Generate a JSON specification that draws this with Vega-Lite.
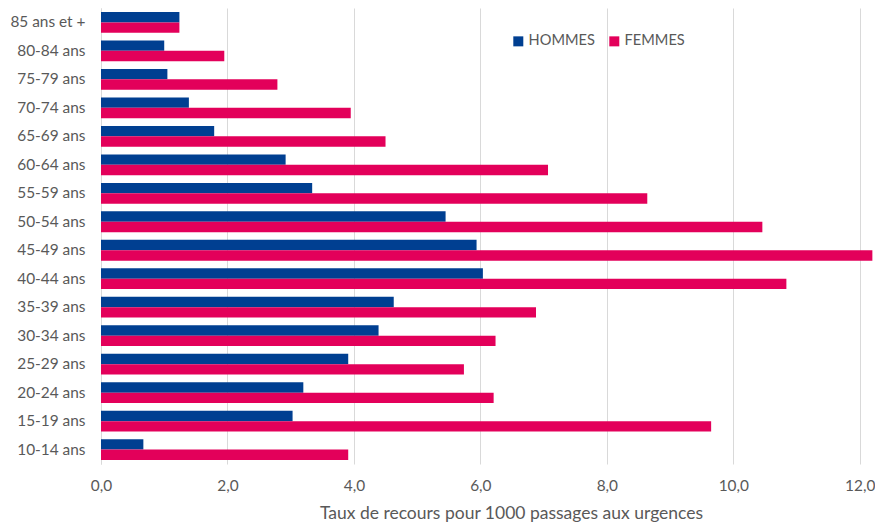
{
  "$schema": "https://vega.github.io/schema/vega-lite/v6.json",
  "autosize": {"type": "none"},
  "padding": {"left": 101, "top": 8, "right": 2, "bottom": 61},
  "width": 772,
  "height": 456,
  "config": {
    "view": {"stroke": null},
    "font": "Lato",
    "axis": {"labelColor": "#595959", "titleColor": "#595959", "labelFont": "Lato", "titleFont": "Lato"}
  },
  "data": {
    "values": [
      {"age": "85 ans et +", "sexe": "HOMMES", "taux": 1.24},
      {"age": "85 ans et +", "sexe": "FEMMES", "taux": 1.24},
      {"age": "80-84 ans", "sexe": "HOMMES", "taux": 1.0},
      {"age": "80-84 ans", "sexe": "FEMMES", "taux": 1.95},
      {"age": "75-79 ans", "sexe": "HOMMES", "taux": 1.05},
      {"age": "75-79 ans", "sexe": "FEMMES", "taux": 2.79},
      {"age": "70-74 ans", "sexe": "HOMMES", "taux": 1.39},
      {"age": "70-74 ans", "sexe": "FEMMES", "taux": 3.95},
      {"age": "65-69 ans", "sexe": "HOMMES", "taux": 1.79},
      {"age": "65-69 ans", "sexe": "FEMMES", "taux": 4.5},
      {"age": "60-64 ans", "sexe": "HOMMES", "taux": 2.92},
      {"age": "60-64 ans", "sexe": "FEMMES", "taux": 7.07},
      {"age": "55-59 ans", "sexe": "HOMMES", "taux": 3.34},
      {"age": "55-59 ans", "sexe": "FEMMES", "taux": 8.64},
      {"age": "50-54 ans", "sexe": "HOMMES", "taux": 5.45},
      {"age": "50-54 ans", "sexe": "FEMMES", "taux": 10.46},
      {"age": "45-49 ans", "sexe": "HOMMES", "taux": 5.94},
      {"age": "45-49 ans", "sexe": "FEMMES", "taux": 12.2},
      {"age": "40-44 ans", "sexe": "HOMMES", "taux": 6.04},
      {"age": "40-44 ans", "sexe": "FEMMES", "taux": 10.84},
      {"age": "35-39 ans", "sexe": "HOMMES", "taux": 4.63},
      {"age": "35-39 ans", "sexe": "FEMMES", "taux": 6.88},
      {"age": "30-34 ans", "sexe": "HOMMES", "taux": 4.39},
      {"age": "30-34 ans", "sexe": "FEMMES", "taux": 6.24},
      {"age": "25-29 ans", "sexe": "HOMMES", "taux": 3.91},
      {"age": "25-29 ans", "sexe": "FEMMES", "taux": 5.74},
      {"age": "20-24 ans", "sexe": "HOMMES", "taux": 3.2},
      {"age": "20-24 ans", "sexe": "FEMMES", "taux": 6.21},
      {"age": "15-19 ans", "sexe": "HOMMES", "taux": 3.03},
      {"age": "15-19 ans", "sexe": "FEMMES", "taux": 9.65},
      {"age": "10-14 ans", "sexe": "HOMMES", "taux": 0.67},
      {"age": "10-14 ans", "sexe": "FEMMES", "taux": 3.91}
    ]
  },
  "mark": {"type": "bar"},
  "encoding": {
    "y": {
      "field": "age",
      "type": "nominal",
      "sort": null,
      "scale": {"paddingInner": 0.27, "paddingOuter": 0.14},
      "axis": {
        "title": null,
        "ticks": false,
        "labelFontSize": 15.4,
        "labelPadding": 16,
        "domainColor": "#d9d9d9",
        "domainWidth": 1,
        "grid": false
      }
    },
    "x": {
      "field": "taux",
      "type": "quantitative",
      "scale": {"domain": [0, 12.21], "nice": false},
      "axis": {
        "values": [0, 2, 4, 6, 8, 10, 12],
        "labelExpr": "replace(format(datum.value, '.1f'), '.', ',')",
        "labelFlush": false,
        "title": "Taux de recours pour 1000 passages aux urgences",
        "titleFontSize": 17.5,
        "titleFontWeight": "normal",
        "titlePadding": 11,
        "titleX": 410,
        "titleAlign": "center",
        "labelFontSize": 15.4,
        "labelPadding": 14,
        "ticks": false,
        "domain": false,
        "grid": true,
        "gridColor": "#d9d9d9",
        "gridWidth": 1
      }
    },
    "yOffset": {"field": "sexe", "type": "nominal", "sort": ["HOMMES", "FEMMES"]},
    "color": {
      "field": "sexe",
      "type": "nominal",
      "sort": ["HOMMES", "FEMMES"],
      "scale": {"domain": ["HOMMES", "FEMMES"], "range": ["#003F91", "#E3005A"]},
      "legend": {
        "title": null,
        "orient": "none",
        "legendX": 410,
        "legendY": 26,
        "direction": "horizontal",
        "symbolType": "square",
        "symbolSize": 100,
        "symbolStrokeWidth": 0,
        "labelFontSize": 14.6,
        "labelColor": "#595959",
        "columnPadding": 12,
        "labelOffset": 3
      }
    }
  }
}
